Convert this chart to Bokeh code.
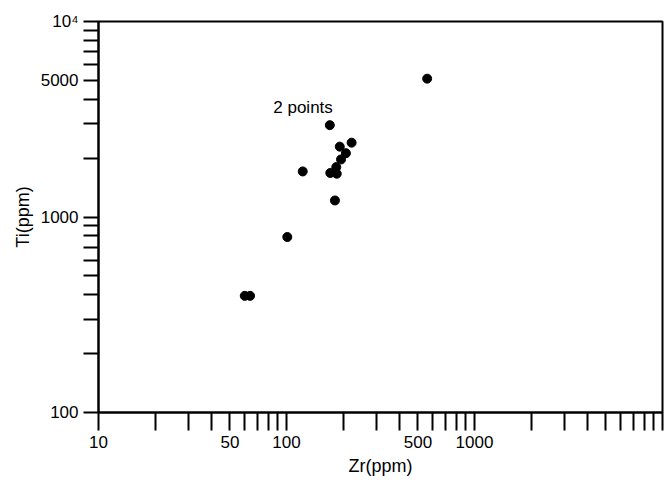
from bokeh.plotting import figure
from bokeh.models import Range1d, FixedTicker, CustomJSTickFormatter, Label, ColumnDataSource
from bokeh.embed import file_html
from bokeh.resources import INLINE

# data
zr = [560, 170, 222, 192, 207, 195, 184, 171, 185, 122, 181, 101, 60, 64]
ti = [5100, 2950, 2400, 2290, 2120, 1970, 1800, 1680, 1665, 1710, 1215, 790, 395, 395]

x_major = [10, 50, 100, 500, 1000]
x_minor = [20, 30, 40, 60, 70, 80, 90, 200, 300, 400, 600, 700, 800, 900,
           2000, 3000, 4000, 5000, 6000, 7000, 8000, 9000, 10000]
y_major = [100, 1000, 5000, 10000]
y_minor = [200, 300, 400, 500, 600, 700, 800, 900,
           2000, 3000, 4000, 6000, 7000, 8000, 9000]

FONT = "Liberation Sans"

p = figure(width=672, height=484, x_axis_type="log", y_axis_type="log",
           x_range=Range1d(10, 10000), y_range=Range1d(100, 10000),
           output_backend="svg", toolbar_location=None,
           min_border_left=98, min_border_right=10, min_border_top=21, min_border_bottom=72)
p.xgrid.visible = False
p.ygrid.visible = False
p.outline_line_color = "black"
p.outline_line_width = 2
p.background_fill_color = "white"
p.border_fill_color = "white"

fmt = CustomJSTickFormatter(code="return tick >= 9999 ? '10\u2074' : tick.toFixed(0);")

for ax, maj, mnr, tl in ((p.xaxis[0], x_major, x_minor, 18), (p.yaxis[0], y_major, y_minor, 15)):
    ax.ticker = FixedTicker(ticks=maj, minor_ticks=mnr)
    ax.formatter = fmt
    ax.major_tick_in = 0
    ax.minor_tick_in = 0
    ax.major_tick_out = tl
    ax.minor_tick_out = tl
    ax.major_tick_line_width = 2
    ax.minor_tick_line_width = 2
    ax.major_tick_line_color = "black"
    ax.minor_tick_line_color = "black"
    ax.axis_line_width = 2
    ax.axis_line_color = "black"
    ax.major_label_text_font = FONT
    ax.major_label_text_font_size = "17px"
    ax.major_label_text_color = "black"
    ax.axis_label_text_font = FONT
    ax.axis_label_text_font_size = "18px"
    ax.axis_label_text_font_style = "normal"
    ax.axis_label_text_color = "black"
    ax.major_label_standoff = 5

p.xaxis.axis_label = "Zr(ppm)"
p.yaxis.axis_label = "Ti(ppm)"
p.xaxis.axis_label_standoff = 5
p.yaxis.axis_label_standoff = 5

src = ColumnDataSource(dict(x=zr, y=ti))
p.scatter("x", "y", source=src, size=9, color="black")

# annotation for duplicated point
p.add_layout(Label(x=zr[1], y=ti[1], text="2 points", text_align="right", text_baseline="bottom",
                   x_offset=3, y_offset=8, text_font=FONT, text_font_size="17px",
                   text_color="black"))

open("out.html", "w").write(file_html(p, INLINE))
